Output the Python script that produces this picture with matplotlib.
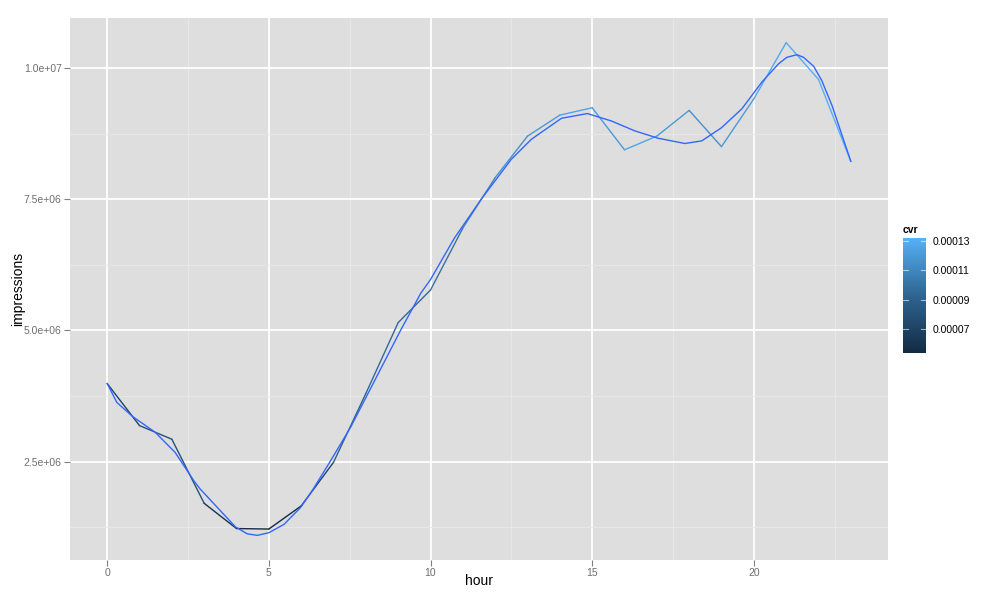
import numpy as np
import matplotlib
matplotlib.use("Agg")
import matplotlib.pyplot as plt
from matplotlib.collections import LineCollection
from matplotlib.colors import LinearSegmentedColormap, Normalize

# ---- data ----
hours = [0, 1, 2, 3, 4, 5, 6, 7, 8, 9, 10, 11, 12, 13, 14, 15, 16, 17, 18, 19, 20, 21, 22, 23]
impressions = [3.99e6, 3.19e6, 2.93e6, 1.71e6, 1.23e6, 1.22e6, 1.66e6, 2.49e6, 3.80e6, 5.15e6,
               5.77e6, 6.95e6, 7.91e6, 8.70e6, 9.10e6, 9.24e6, 8.44e6, 8.70e6, 9.19e6, 8.50e6,
               9.41e6, 10.48e6, 9.78e6, 8.22e6]
cvr = [7.0e-5, 8.0e-5, 8.0e-5, 6.0e-5, 5.5e-5, 5.4e-5, 7.0e-5, 9.0e-5, 9.5e-5, 9.5e-5,
       1.0e-4, 1.1e-4, 1.15e-4, 1.2e-4, 1.25e-4, 1.2e-4, 1.25e-4, 1.2e-4, 1.15e-4, 1.2e-4,
       1.28e-4, 1.3e-4, 1.32e-4, 1.25e-4]

smooth_hours = [0, 0.3, 0.77, 1.49, 2.1, 2.68, 2.88, 3.5, 3.97, 4.33, 4.64, 5.0, 5.47, 5.98,
                6.34, 6.91, 7.53, 9.08, 9.7, 10.0, 10.74, 11.57, 12.5, 13.12, 14.05, 14.85,
                15.59, 16.32, 17.04, 17.87, 18.39, 19.0, 19.63, 20.25, 20.77, 21.02, 21.33,
                21.54, 21.85, 22.1, 22.42, 23.0]
smooth_vals = [3.99e6, 3.63e6, 3.37e6, 3.06e6, 2.68e6, 2.14e6, 1.98e6, 1.57e6, 1.26e6, 1.13e6,
               1.10e6, 1.15e6, 1.31e6, 1.63e6, 1.95e6, 2.52e6, 3.16e6, 5.01e6, 5.71e6, 5.97e6,
               6.76e6, 7.50e6, 8.26e6, 8.64e6, 9.04e6, 9.13e6, 8.99e6, 8.80e6, 8.66e6, 8.56e6,
               8.61e6, 8.86e6, 9.22e6, 9.73e6, 10.08e6, 10.20e6, 10.25e6, 10.20e6, 10.03e6,
               9.76e6, 9.28e6, 8.22e6]

xticks = [0, 5, 10, 15, 20]
yticks = [2.5e6, 5.0e6, 7.5e6, 1.0e7]
ytick_labels = ["2.5e+06", "5.0e+06", "7.5e+06", "1.0e+07"]
cbar_ticks = [7e-5, 9e-5, 11e-5, 13e-5]
cbar_labels = ["0.00007", "0.00009", "0.00011", "0.00013"]

plt.rcParams['font.family'] = ['Liberation Sans', 'DejaVu Sans']

W, H = 1003, 601
fig = plt.figure(figsize=(W / 100, H / 100), dpi=100)
fig.patch.set_facecolor('white')

ax = fig.add_axes([70 / W, 1 - 560 / H, (888 - 70) / W, (560 - 18) / H])
ax.set_facecolor('#DEDEDE')
for s in ax.spines.values():
    s.set_visible(False)

# limits with ggplot-like 5% expansion
xmin, xmax = min(hours), max(hours)
dx = (xmax - xmin) * 0.05
ax.set_xlim(xmin - dx, xmax + dx)
allv = impressions + smooth_vals
ymin, ymax = min(allv), max(allv)
dy = (ymax - ymin) * 0.05
ax.set_ylim(ymin - dy, ymax + dy)

# grid
minor_x = [2.5, 7.5, 12.5, 17.5, 22.5]
minor_y = [1.25e6, 3.75e6, 6.25e6, 8.75e6]
ax.set_xticks(xticks)
ax.set_xticks(minor_x, minor=True)
ax.set_yticks(yticks)
ax.set_yticks(minor_y, minor=True)
ax.set_yticklabels(ytick_labels)
ax.grid(which='major', color='white', linewidth=1.3)
ax.grid(which='minor', color='#E8E8E8', linewidth=0.7)
ax.set_axisbelow(True)
ax.tick_params(which='major', length=4, width=0.8, color='#7F7F7F',
               labelsize=7.5, labelcolor='#6E6E6E', pad=2)
ax.tick_params(which='minor', length=0)

# colormap (ggplot default gradient)
cmap = LinearSegmentedColormap.from_list('gg', ['#132B43', '#2F6691', '#56B1F7'])
norm = Normalize(vmin=min(cvr), vmax=max(cvr))

pts = np.column_stack([hours, impressions])
segs = np.stack([pts[:-1], pts[1:]], axis=1)
lc = LineCollection(segs, colors=cmap(norm(np.array(cvr[:-1]))), linewidth=1.0,
                    capstyle='round', joinstyle='round')
ax.add_collection(lc)

ax.plot(smooth_hours, smooth_vals, color='#3366FF', linewidth=1.0)

ax.set_xlabel('hour', fontsize=10, labelpad=-3)
ax.set_ylabel('impressions', fontsize=10, labelpad=-1)

# colorbar legend
cax = fig.add_axes([903 / W, 1 - 353 / H, 23 / W, 115 / H])
grad = np.linspace(0, 1, 256).reshape(-1, 1)
cax.imshow(grad, aspect='auto', cmap=cmap, origin='lower',
           extent=[0, 1, norm.vmin, norm.vmax])
cax.set_xlim(0, 1)
cax.set_ylim(norm.vmin, norm.vmax)
for s in cax.spines.values():
    s.set_visible(False)
cax.set_xticks([])
cax.yaxis.tick_right()
cax.set_yticks(cbar_ticks)
cax.set_yticklabels(cbar_labels)
cax.tick_params(axis='y', length=0, labelsize=7.5, pad=5)
for t in cbar_ticks:
    cax.plot([0, 0.2], [t, t], color='white', alpha=0.6, linewidth=0.8)
    cax.plot([0.8, 1], [t, t], color='white', alpha=0.6, linewidth=0.8)
fig.text(903 / W, 1 - 230 / H, 'cvr', fontsize=7.5, fontweight='bold', va='center', ha='left')

fig.savefig('out.png', dpi=100)
